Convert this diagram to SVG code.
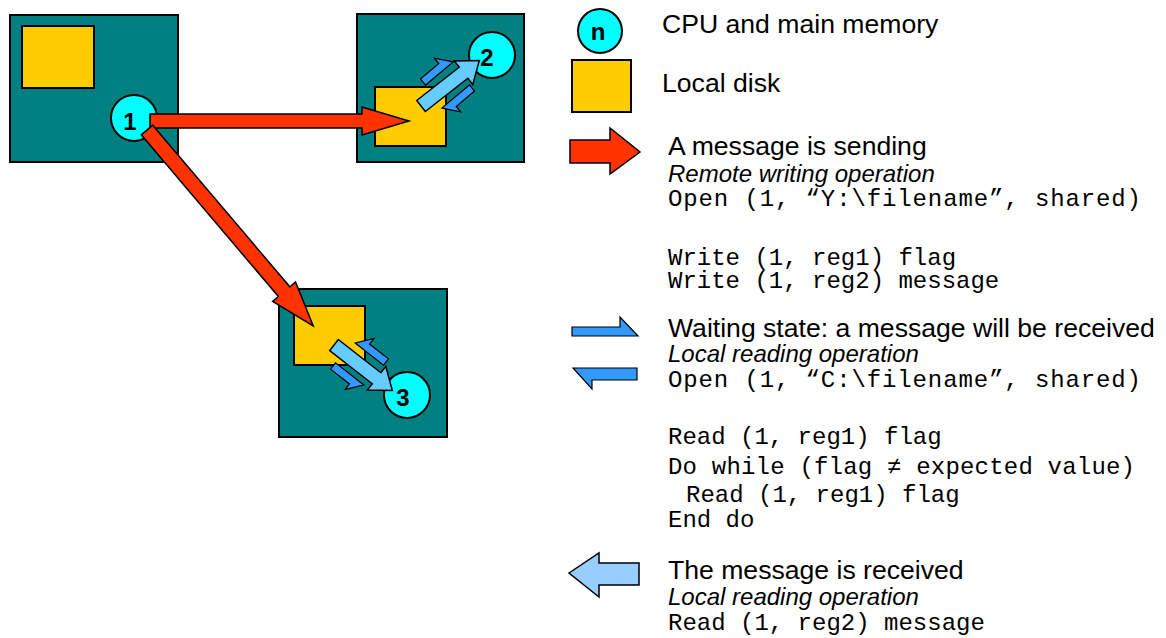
<svg xmlns="http://www.w3.org/2000/svg" xmlns:xlink="http://www.w3.org/1999/xlink" width="1166" height="638" viewBox="0 0 1166 638">
<style>
.box{fill:#008080;stroke:#000;stroke-width:2}
.disk{fill:#FFCC00;stroke:#000;stroke-width:2}
.cpu{fill:#00FFFF;stroke:#000;stroke-width:2}
.num{font-family:"Liberation Sans",Arial,sans-serif;font-weight:bold;font-size:24px;fill:#000;text-anchor:middle}
.red{fill:#FF3300;stroke:#000;stroke-width:1.5;stroke-linejoin:miter}
.lb{fill:#66CCFF;stroke:#000;stroke-width:1.5}
.db{fill:#3399FF;stroke:#000;stroke-width:1.2}
.lb2{fill:#99CCFF;stroke:#000;stroke-width:1.5}
.t{font-family:"Liberation Sans",Arial,sans-serif;font-size:26.6px;fill:#000}
.i{font-family:"Liberation Sans",Arial,sans-serif;font-size:24px;font-style:italic;fill:#000}
.m{font-family:"Liberation Mono","Courier New",monospace;font-size:24px;fill:#000}
</style>
<defs>
<path id="harpA" d="M0,-4 L24,-4 L24,-11 L36,4 L0,4 Z"/>
<path id="harpB" d="M0,4 L24,4 L24,11 L36,-4 L0,-4 Z"/>
<path id="lbArrow" d="M0,-7 L54,-7 L54,-15 L74,0 L54,15 L54,7 L0,7 Z"/>
</defs>
<rect width="1166" height="638" fill="#fff"/>

<g id="node1">
<rect class="box" x="10" y="15" width="168" height="147"/>
<rect class="disk" x="22" y="26" width="72" height="62"/>
<circle class="cpu" cx="134" cy="118" r="23"/>
<text class="num" x="130" y="130">1</text>
</g>

<g id="node2">
<rect class="box" x="357" y="14" width="167" height="148"/>
<rect class="disk" x="375" y="87" width="71" height="59"/>
<circle class="cpu" cx="492" cy="55" r="23"/>
<text class="num" x="487" y="66">2</text>
<use class="db" xlink:href="#harpA" transform="translate(423,82) rotate(-40)"/>
<use class="db" xlink:href="#harpA" transform="translate(472,88) rotate(140)"/>
<use class="lb" xlink:href="#lbArrow" transform="translate(421,106) rotate(-38)"/>
</g>

<g id="node3">
<rect class="box" x="279" y="289" width="168" height="148"/>
<rect class="disk" x="294" y="306" width="71" height="59"/>
<circle class="cpu" cx="407" cy="395" r="23"/>
<text class="num" x="403" y="406">3</text>
<use class="db" xlink:href="#harpB" transform="translate(386,362) rotate(-142)"/>
<use class="db" xlink:href="#harpB" transform="translate(333,366) rotate(38)"/>
<use class="lb" xlink:href="#lbArrow" transform="translate(334,345) rotate(38)"/>
</g>

<g id="connectors">
<polygon class="red" points="150,114 362,114 362,107 409,121 362,135 362,128 150,128"/>
<polygon class="red" transform="translate(147,130) rotate(49.7)" points="0,-7.5 212,-7.5 212,-15 257,0 212,15 212,7.5 0,7.5"/>
</g>

<g id="legend">
<circle class="cpu" cx="600" cy="31" r="22"/>
<text class="num" x="598" y="40">n</text>
<text class="t" x="662" y="33">CPU and main memory</text>
<rect class="disk" x="572" y="60" width="59" height="52"/>
<text class="t" x="662" y="92">Local disk</text>
<polygon class="red" points="570,140 610,140 610,128 640,152 610,174 610,163 570,163"/>
<text class="t" x="668" y="155">A message is sending</text>
<text class="i" x="668" y="182">Remote writing operation</text>
<text class="m" x="668" y="206" textLength="473" lengthAdjust="spacing">Open (1, “Y:\filename”, shared)</text>
<text class="m" x="668" y="265">Write (1, reg1) flag</text>
<text class="m" x="668" y="288">Write (1, reg2) message</text>
<polygon class="db" points="572,327 620,327 620,317 638,336 572,336"/>
<polygon class="db" points="637,380 592,380 592,389 573,368 637,368"/>
<text class="t" x="668" y="337">Waiting state: a message will be received</text>
<text class="i" x="668" y="362">Local reading operation</text>
<text class="m" x="668" y="387" textLength="473" lengthAdjust="spacing">Open (1, “C:\filename”, shared)</text>
<text class="m" x="668" y="444">Read (1, reg1) flag</text>
<text class="m" x="668" y="474" textLength="467" lengthAdjust="spacing">Do while (flag ≠ expected value)</text>
<text class="m" x="686" y="502">Read (1, reg1) flag</text>
<text class="m" x="668" y="527">End do</text>
<polygon class="lb2" points="569,573 599,553 599,563 639,563 639,585 599,585 599,597"/>
<text class="t" x="668" y="579">The message is received</text>
<text class="i" x="668" y="605">Local reading operation</text>
<text class="m" x="668" y="630">Read (1, reg2) message</text>
</g>
</svg>
